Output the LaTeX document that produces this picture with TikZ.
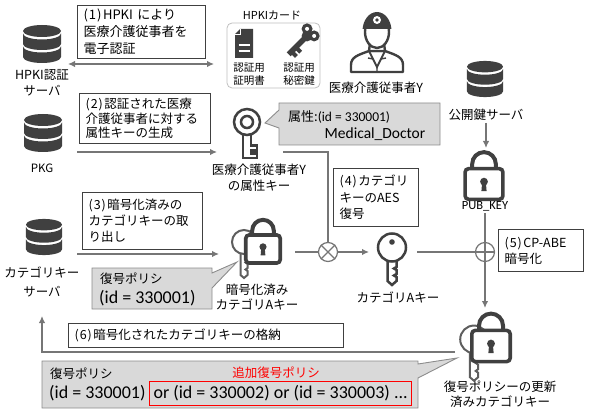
\documentclass[tikz,border=0pt]{standalone}
\usepackage{fontspec}
\setmainfont{Noto Sans CJK JP}
\newfontfamily\lat{Carlito}
\usetikzlibrary{arrows.meta}

\definecolor{ink}{HTML}{404040}
\definecolor{conn}{HTML}{767676}
\definecolor{panel}{HTML}{D9D9D9}
\definecolor{panelline}{HTML}{8C8C8C}
\definecolor{cardline}{HTML}{BFBFBF}
\definecolor{alert}{HTML}{FF0000}

\newcommand{\pn}[1]{{(}\kern1pt#1\kern1pt{)}\kern1.5pt}

\tikzset{
  stepbox/.style={draw=ink, line width=1.1pt, fill=white, anchor=north west,
    align=left, inner xsep=6pt, inner ysep=0pt},
  lbl/.style={font=\fontsize{12.5}{15.5}\selectfont, align=center, inner sep=0pt, text=black},
  wire/.style={draw=conn, line width=1.5pt},
  flow/.style={wire, -{Latex[length=7pt,width=6.5pt]}},
  twoway/.style={wire, {Latex[length=7pt,width=6.5pt]}-{Latex[length=7pt,width=6.5pt]}},
  callout/.style={fill=panel, draw=panelline, line width=0.9pt},
  % database: cap plus two bands
  db/.pic={
    \fill[ink] (0,-13) ellipse[x radius=19, y radius=6];
    \fill[ink] (-19,-10.5) arc[start angle=180, end angle=0, x radius=19, y radius=6]
      -- (19,0) arc[start angle=0, end angle=180, x radius=19, y radius=6] -- cycle;
    \fill[ink] (-19,2.5) arc[start angle=180, end angle=0, x radius=19, y radius=6]
      -- (19,13) arc[start angle=0, end angle=180, x radius=19, y radius=6] -- cycle;
  },
  % padlock: body centred on the origin
  padlock/.pic={
    \draw[ink, line width=4pt] (-10,-13) -- (-10,-17) arc[start angle=180, end angle=360, radius=10] -- (10,-13);
    \draw[ink, line width=3.6pt, fill=white, rounded corners=3.5pt] (-16,-13) rectangle (16,13);
    \fill[ink] (0,-2) circle (3.3);
    \fill[ink] (-1.6,-1) -- (1.6,-1) -- (2.2,6) -- (-2.2,6) -- cycle;
  },
  % plain key seen behind a padlock
  backkey/.pic={
    \draw[conn!80!black, line width=2pt, fill=white] (-3.5,0) -- (-3.5,22) -- (0,25) -- (3.5,22)
      -- (3.5,18) -- (1.5,16.5) -- (3.5,15) -- (3.5,11) -- (1.5,9.5) -- (3.5,8) -- (3.5,0);
    \draw[conn!80!black, line width=2pt, fill=white] (0,-11) circle (12);
  },
  % key with a round head and a keyhole dot
  roundkey/.pic={
    \draw[ink, line width=2.5pt, fill=white] (-4.5,0) -- (-4.5,23) -- (0,27) -- (4.5,23)
      -- (4.5,19) -- (2,17.5) -- (4.5,16) -- (4.5,12) -- (2,10.5) -- (4.5,9) -- (4.5,0);
    \draw[ink, line width=2.5pt, fill=white] (0,-10.5) circle (14);
    \fill[ink] (0,-16) circle (2.8);
  },
  % key with a ring head and square bits
  ringkey/.pic={
    \draw[ink, line width=2.5pt, fill=white] (-4,0) -- (-4,25) -- (10,25) -- (10,20.5) -- (4,20.5)
      -- (4,17.5) -- (10,17.5) -- (10,12.5) -- (4,12.5) -- (4,0);
    \draw[ink, line width=2.5pt, fill=white] (0,-11) circle (13);
    \draw[ink, line width=2.5pt] (0,-11) circle (6);
  },
  % health-care worker bust
  worker/.pic={
    \draw[ink, line width=2.4pt, fill=white, line join=round] (-26,30) -- (-26,23)
      .. controls (-26,15) and (-19,13) .. (-8,9) -- (8,9) .. controls (19,13) and (26,15) .. (26,23)
      -- (26,30) -- cycle;
    \draw[ink, line width=1.8pt] (-8,9) -- (0,25) -- (8,9);
    \draw[ink, line width=1.4pt] (-4,17) -- (-9,16) (4,17) -- (9,16) (0,25) -- (0,30);
    \draw[ink, line width=2.4pt, fill=white] (-7,1) -- (-8,9) -- (8,9) -- (7,1);
    \draw[ink, line width=2.4pt, fill=white] (0,-10) ellipse[x radius=12, y radius=16];
    \begin{scope}
      \clip (-20,-40) rectangle (20,-13);
      \fill[ink] (0,-11) ellipse[x radius=14.5, y radius=19];
    \end{scope}
    \fill[white] (0,-22) circle (4);
    \fill[ink] (0,-22) circle (1.8);
  },
}

\begin{document}
\begin{tikzpicture}[x=1pt, y=-1pt]
\useasboundingbox (0,0) rectangle (589,409);

% ---------- servers ----------
\pic at (42,44) {db};
\node[lbl] (hpkisv) at (42,83) {HPKI認証\\サーバ};
\pic at (43,133) {db};
\node[lbl, font=\fontsize{11.5}{14}\selectfont] (pkg) at (42,168) {PKG};
\pic[scale=0.95] at (44,237) {db};
\node[lbl, font=\fontsize{12.5}{19.5}\selectfont] (catsv) at (42,282) {カテゴリキー\\サーバ};
\pic[scale=0.95] at (485,79) {db};
\node[lbl] (pubsv) at (486,115) {公開鍵サーバ};

% ---------- HPKI card ----------
\draw[cardline, line width=0.8pt, rounded corners=5pt] (227,23) rectangle (320,88);
\node[lbl, font=\fontsize{11}{13}\selectfont] (cardttl) at (272,15) {HPKIカード};
\fill[ink] (240,29) -- (253,29) -- (253,58) -- (235,58) -- (235,34) -- cycle;
\draw[white, line width=0.9pt] (235,34.5) -- (240.5,34.5) -- (240.5,29);
\draw[white, line width=1.6pt] (238.5,45) -- (249.5,45) (238.5,51) -- (249.5,51);
\node[lbl, font=\fontsize{10.5}{13}\selectfont] (certlbl) at (249,74) {認証用\\証明書};
\begin{scope}[shift={(300,43)}, rotate=-45]
  \fill[ink] (0,-10) circle (5.5) (-5,-15) circle (5.5) (5,-15) circle (5.5);
  \fill[white] (-5,-15) circle (2) (5,-15) circle (2);
  \fill[ink] (-2.8,-8) rectangle (2.8,16);
  \fill[ink] (2,4) rectangle (7,8) (2,10) rectangle (7,14);
\end{scope}
\node[lbl, font=\fontsize{10.5}{13}\selectfont] (skeylbl) at (299,74) {認証用\\秘密鍵};

% ---------- worker ----------
\pic at (377,42) {worker};
\node[lbl] (worker) at (376,88) {医療介護従事者Y};

% ---------- step boxes ----------
\node[stepbox, text width=116pt, minimum height=53pt, font=\fontsize{13}{17}\selectfont]
  (s1) at (77,5) {\pn{1}HPKI により\\医療介護従事者を\\電子認証};
\node[stepbox, text width=119pt, minimum height=50pt, font=\fontsize{12.5}{14.5}\selectfont]
  (s2) at (79,93) {\pn{2}認証された医療\\介護従事者に対する\\属性キーの生成};
\node[stepbox, text width=108pt, minimum height=57pt, font=\fontsize{12.5}{16}\selectfont]
  (s3) at (82,192) {\pn{3}暗号化済みの\\カテゴリキーの取\\り出し};
\node[stepbox, text width=73pt, minimum height=58pt, font=\fontsize{12.5}{16.5}\selectfont]
  (s4) at (333,168) {\pn{4}カテゴリ\\キーのAES\\復号};
\node[stepbox, text width=73pt, minimum height=42pt, font=\fontsize{12.5}{16}\selectfont]
  (s5) at (498,229) {\pn{5}CP-ABE\\暗号化};
\node[stepbox, text width=263pt, minimum height=24pt, font=\fontsize{12.5}{15}\selectfont]
  (s6) at (68,323) {\pn{6}暗号化されたカテゴリキーの格納};

% ---------- keys ----------
\pic at (247,133) {ringkey};
\node[lbl, font=\fontsize{12.5}{16}\selectfont] (attrkey) at (259,178) {医療介護従事者Y\\の属性キー};

\pic at (244,253) {backkey};
\pic[scale=1.08] at (263,249) {padlock};
\node[lbl, font=\fontsize{12.5}{15}\selectfont] (enckey) at (257,297) {暗号化済み\\カテゴリAキー};

\pic at (392,258) {roundkey};
\node[lbl] (catkey) at (398,297) {カテゴリAキー};

\pic[scale=1.18] at (484,184) {padlock};
\node[lbl, font=\lat\fontsize{12.5}{15}\selectfont] (pubkey) at (485,206) {PUB\_KEY};

\pic[scale=1.15] at (474,352) {backkey};
\pic[scale=1.2] at (491,346) {padlock};
\node[lbl, font=\fontsize{12.5}{15}\selectfont] (newkey) at (500,394) {復号ポリシーの更新\\済みカテゴリキー};

% ---------- callouts ----------
\path[callout] (279,103) -- (440,103) -- (440,145) -- (279,145) -- (279,128) -- (265,123) -- (279,110) -- cycle;
\node[anchor=west, inner sep=0pt] (attrtxt) at (288,117)
  {\fontsize{13}{15}\selectfont 属性:\lat\fontsize{13.5}{15}\selectfont (id = 330001)};
\node[anchor=center, inner sep=0pt, font=\lat\fontsize{15.5}{17}\selectfont] (doctor) at (375,134) {Medical\_Doctor};

\path[callout] (92,268) -- (212,268) -- (212,273) -- (237,262) -- (212,288) -- (212,309) -- (92,309) -- cycle;
\node[anchor=west, inner sep=0pt, font=\fontsize{12.5}{15}\selectfont] (pol1) at (100,279) {復号ポリシ};
\node[anchor=west, inner sep=0pt, font=\lat\fontsize{18}{20}\selectfont] (pol1id) at (99,298) {(id = 330001)};

\path[callout] (42,361) -- (418,361) -- (418,364) -- (457,358) -- (418,378) -- (418,408) -- (42,408) -- cycle;
\node[anchor=west, inner sep=0pt, font=\fontsize{12.5}{15}\selectfont] (pol2) at (50,374) {復号ポリシ};
\node[anchor=west, inner sep=0pt, font=\lat\fontsize{18}{20}\selectfont] (pol2id) at (49,393) {(id = 330001)};
\node[draw=alert, line width=1.2pt, minimum width=262pt, minimum height=24pt, inner sep=0pt,
  anchor=north west, font=\lat\fontsize{18}{20}\selectfont] (extra) at (149,381)
  {or (id = 330002) or (id = 330003) ...};
\node[lbl, text=alert] (extralbl) at (276,373) {追加復号ポリシ};

% ---------- operators ----------
\node[circle, draw=conn, fill=white, line width=1.2pt, minimum size=19pt, inner sep=0pt] (mul) at (328,252) {};
\draw[conn, line width=1.2pt] (mul.north west) -- (mul.south east) (mul.north east) -- (mul.south west);
\node[circle, draw=conn, line width=1.2pt, minimum size=19pt, inner sep=0pt] (add) at (485,252) {};

% ---------- connectors ----------
\coordinate (c1a) at (68,64);   \coordinate (c1b) at (214,64);
\coordinate (c2a) at (77,152);  \coordinate (c2b) at (217,152);
\coordinate (c3a) at (77,254);  \coordinate (c3b) at (219,254);
\coordinate (akey) at (283,152);
\coordinate (ekey) at (295,252);
\coordinate (ckeyin) at (369,252);
\coordinate (ckeyout) at (417,252);
\coordinate (pubtop) at (485,213);
\coordinate (newtop) at (485,308);
\coordinate (svbot) at (486,123);
\coordinate (locktop) at (486,148);
\coordinate (newleft) at (455,352);
\coordinate (catbot) at (42,316);

\draw[twoway] (c1a) -- (c1b);
\draw[flow] (c2a) -- (c2b);
\draw[flow] (c3a) -- (c3b);
\draw[wire] (akey) -| (mul.north);
\draw[wire] (ekey) -- (mul.west);
\draw[flow] (mul.east) -- (ckeyin);
\draw[wire] (ckeyout) -- (add.east);
\draw[flow] (pubtop) -- (newtop);
\draw[flow] (svbot) -- (locktop);
\draw[flow] (newleft) -| (catbot);
\end{tikzpicture}
\end{document}
